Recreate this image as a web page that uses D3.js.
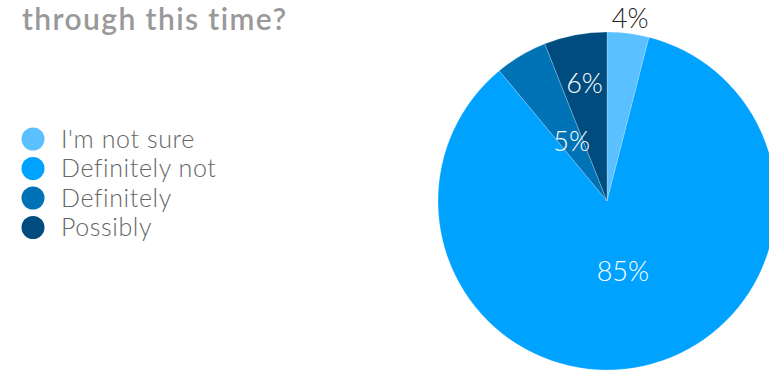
<!DOCTYPE html>
<html>
<head>
<meta charset="utf-8">
<script src="https://cdn.jsdelivr.net/npm/d3@7"></script>
<style>
  body { margin: 0; background: #fff; }
  svg { display: block; }
</style>
</head>
<body>
<div id="viz"></div>
<script>
var categories = ["I'm not sure", "Definitely not", "Definitely", "Possibly"];
var values = [4, 85, 5, 6];
var labels = ["4%", "85%", "5%", "6%"];
var colors = ["#5bc0ff", "#00a2ff", "#0073b7", "#004c7f"];

var width = 769,
    height = 372,
    center = {x: 607, y: 201},
    radius = 169;

// where each label sits, as fraction of radius
var labelRadius = [1.09, 0.43, 0.41, 0.71];
var labelColor = ["#222", "#fff", "#fff", "#fff"];

var svg = d3.select('#viz')
  .append("svg")
  .attr("width", width)
  .attr("height", height);

// title (only the last line shows)
svg.append("text")
  .attr("x", 22)
  .attr("y", 30)
  .style("font-family", "Lato")
  .style("font-weight", 600)
  .style("font-size", "30px")
  .style("letter-spacing", "1.4px")
  .style("fill", "#999")
  .text("through this time?");

var pie = d3.pie().sort(null).value(d => d);
var arc = d3.arc().innerRadius(0).outerRadius(radius);

var g = svg.append("g")
  .attr("transform", `translate(${center.x},${center.y})`);

var arcs = pie(values);

g.selectAll(".slice")
  .data(arcs)
  .enter().append("path")
  .attr("class", "slice")
  .attr("d", arc)
  .style("fill", (d, i) => colors[i])
  .style("stroke", "rgba(255,255,255,0.35)")
  .style("stroke-width", 0.6);

g.selectAll(".lbl")
  .data(arcs)
  .enter().append("text")
  .attr("class", "lbl")
  .attr("transform", (d, i) => {
    var a = (d.startAngle + d.endAngle) / 2;
    var r = radius * labelRadius[i];
    return `translate(${Math.sin(a) * r},${-Math.cos(a) * r})`;
  })
  .attr("text-anchor", "middle")
  .attr("dy", "0.35em")
  .style("font-family", "Lato")
  .style("font-weight", 300)
  .style("font-size", "27px")
  .style("fill", (d, i) => labelColor[i])
  .text((d, i) => labels[i]);

// legend
var legend = svg.selectAll(".legend")
  .data(categories)
  .enter().append("g")
  .attr("class", "legend")
  .attr("transform", (d, i) => `translate(33,${139 + i * 29.5})`);

legend.append("circle")
  .attr("r", 11.5)
  .style("fill", (d, i) => colors[i]);

legend.append("text")
  .attr("x", 28)
  .attr("dy", "0.35em")
  .style("font-family", "Lato")
  .style("font-weight", 300)
  .style("font-size", "25px")
  .style("letter-spacing", "0.6px")
  .style("fill", "#666")
  .text(d => d);
</script>
</body>
</html>
